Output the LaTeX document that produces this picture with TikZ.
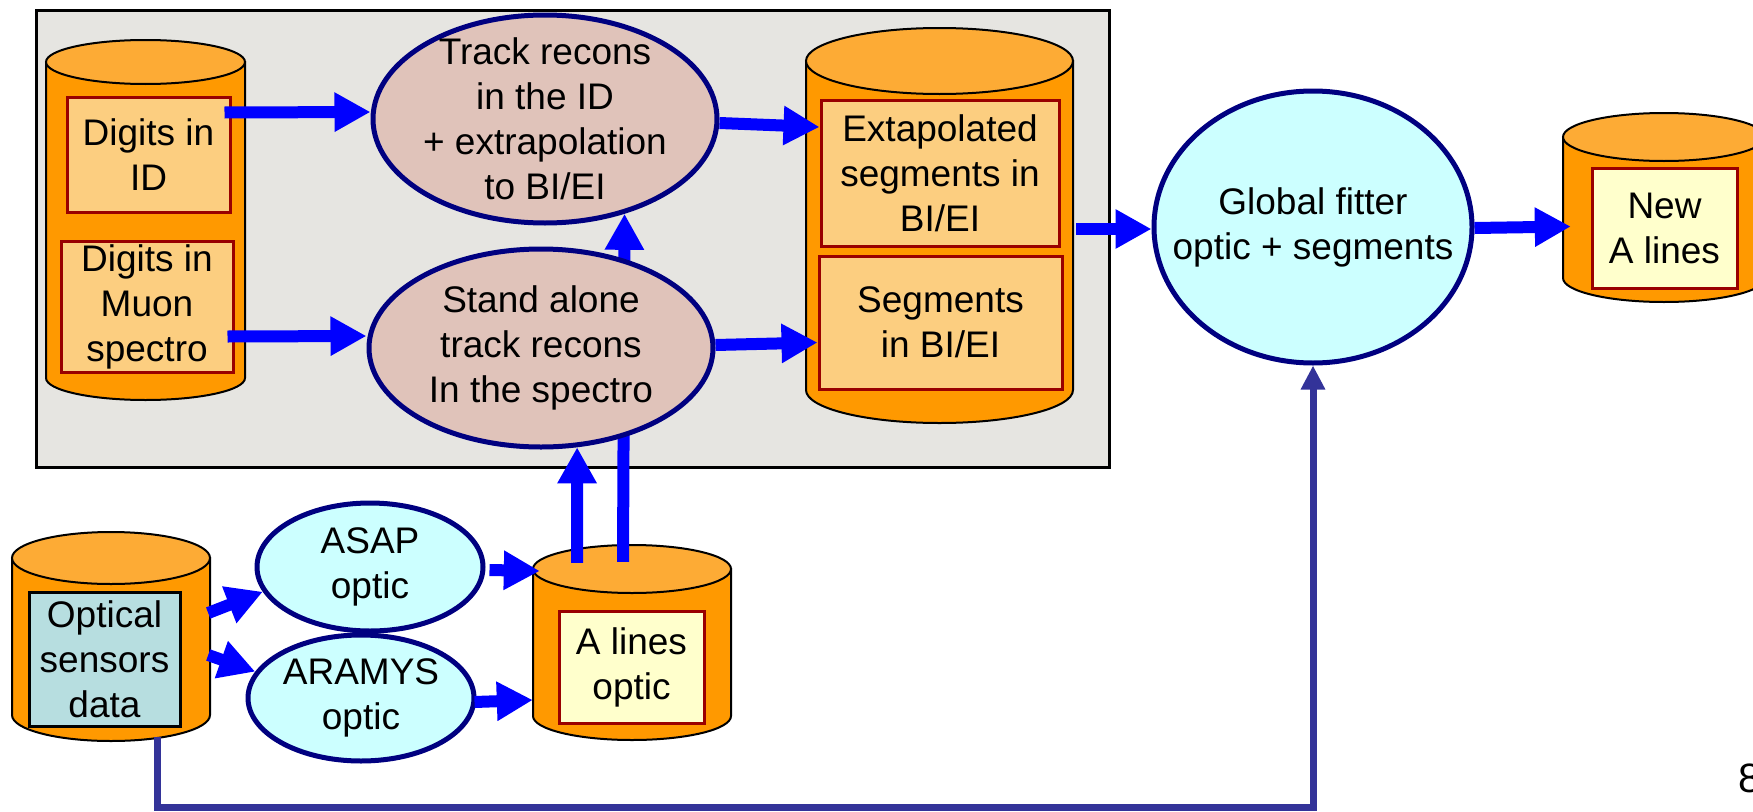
\documentclass[tikz,border=0pt]{standalone}
\usepackage{fontspec}
\setmainfont{Liberation Sans}
\usetikzlibrary{arrows.meta,shapes.geometric,calc}
\definecolor{arrowblue}{RGB}{0,0,255}
\definecolor{navyline}{RGB}{0,0,128}
\definecolor{pinkfill}{RGB}{224,195,186}
\definecolor{cyanfill}{RGB}{204,255,255}
\definecolor{cylbody}{RGB}{255,153,0}
\definecolor{cyltop}{RGB}{253,171,53}
\definecolor{boxorange}{RGB}{252,206,128}
\definecolor{boxborder}{RGB}{153,0,0}
\definecolor{paleyellow}{RGB}{255,255,204}
\definecolor{opticfill}{RGB}{183,222,224}
\definecolor{framegray}{RGB}{230,229,225}
\definecolor{railblue}{RGB}{51,51,153}
\tikzset{
  outerframe/.style={draw=black, line width=3pt, fill=framegray, inner sep=0pt},
  orangebox/.style={draw=boxborder, line width=3pt, fill=boxorange, inner sep=0pt, align=center},
  yellowbox/.style={orangebox, fill=paleyellow},
  opticbox/.style={orangebox, draw=black, fill=opticfill},
  procell/.style={ellipse, draw=navyline, line width=5pt, inner sep=0pt},
  pinkell/.style={procell, fill=pinkfill},
  cyanell/.style={procell, fill=cyanfill},
  celltext/.style={align=center, inner sep=0pt},
  cylbodystyle/.style={fill=cylbody, draw=black, line width=2pt},
  cyltopstyle/.style={fill=cyltop, draw=black, line width=2pt},
  bigarrow/.style={draw=arrowblue, line width=12pt, -{Triangle[length=36pt,width=37pt]}},
  railarrow/.style={draw=railblue, line width=7pt, -{Triangle[length=24pt,width=23pt]}},
}
% #1 name, #2 cx, #3 top-ellipse centre y, #4 bottom-ellipse centre y, #5 rx, #6 ry
\newcommand\dbcyl[6]{%
  \filldraw[cylbodystyle] ({#2-#5},#3) -- ({#2-#5},#4)
     arc[start angle=180, end angle=0, x radius=#5, y radius=#6] -- ({#2+#5},#3) -- cycle;
  \filldraw[cyltopstyle] (#2,#3) ellipse[x radius=#5, y radius=#6];
  \node[inner sep=0pt, minimum width={2*#5}, minimum height={#4-#3+2*#6}] (#1) at (#2,{(#3+#4)/2}) {};
}
\begin{document}
\begin{tikzpicture}[x=1pt, y=-1pt, font=\fontsize{37}{45}\selectfont]
\useasboundingbox (0,0) rectangle (1753,811);

% grey frame
\node[outerframe, minimum width=1073, minimum height=457] (frame) at (572.5,238.5) {};

% cylinders
\dbcyl{cylA}{145.5}{62}{378}{99.5}{22}
\dbcyl{cylB}{939.5}{61}{390}{133.5}{33}
\dbcyl{cylC}{1664}{137}{278}{101}{24}
\dbcyl{cylD}{111}{558}{715}{99}{26}
\dbcyl{cylE}{632}{569}{716}{99}{24}

% boxes inside cylinders
\node[orangebox, minimum width=163, minimum height=115] (idbox) at (148.5,154.5) {Digits in\\ID};
\node[orangebox, minimum width=172, minimum height=131] (muonbox) at (147,306.5) {Digits in\\Muon\\spectro};
\node[orangebox, minimum width=238, minimum height=146] (extbox) at (940,173) {Extapolated\\segments in\\BI/EI};
\node[orangebox, minimum width=243, minimum height=133] (segbox) at (940.5,322.5) {Segments\\in BI/EI};
\node[yellowbox, minimum width=145, minimum height=120] (newbox) at (1664.5,228) {New\\A lines};
\node[opticbox, minimum width=151, minimum height=134] (optbox) at (104.5,659) {Optical\\sensors\\data};
\node[yellowbox, minimum width=145, minimum height=112] (alinebox) at (631.5,667) {A lines\\optic};

% process ellipses
\node[pinkell, minimum width=344, minimum height=208] (track) at (545,119) {};
\node[celltext] (tracktext) at (track) {Track recons\\in the ID\\+ extrapolation\\to BI/EI};

% A lines optic -> track recons (passes behind the stand-alone ellipse)
\draw[bigarrow] ([xshift=-9pt,yshift=-17pt]cylE.north) -- (track.-50);

\node[pinkell, minimum width=344, minimum height=198] (stand) at (541,348) {};
\node[celltext] (standtext) at (stand) {Stand alone\\track recons\\In the spectro};
\node[cyanell, minimum width=318, minimum height=272] (global) at (1313,227) {};
\node[celltext] (globaltext) at (global) {Global fitter\\optic + segments};
\node[cyanell, minimum width=226, minimum height=128] (asap) at (370,567) {};
\node[celltext] (asaptext) at (asap) {ASAP\\optic};
\node[cyanell, minimum width=226, minimum height=126] (aramys) at (361,698) {};
\node[celltext] (aramystext) at (aramys) {ARAMYS\\optic};

% thick blue connectors
\draw[bigarrow] ([xshift=-7pt,yshift=42pt]idbox.east) -- ([yshift=7pt]track.west);
\draw[bigarrow] ([xshift=-7pt,yshift=-30pt]muonbox.east) -- ([yshift=12pt]stand.west);
\draw[bigarrow] ([yshift=-4pt]track.east) -- ([yshift=46pt]extbox.west);
\draw[bigarrow] ([yshift=3pt]stand.east) -- ([yshift=-20pt]segbox.west);
\draw[bigarrow] ([xshift=-55pt,yshift=-18pt]cylE.north) -- (stand.-70);
\draw[bigarrow] ([xshift=3pt,yshift=-3.5pt]cylB.east) -- ([yshift=-2pt]global.west);
\draw[bigarrow] ([yshift=-1pt]global.east) -- ([xshift=8pt,yshift=-19pt]cylC.west);
\draw[bigarrow] ([xshift=-2pt,yshift=23.5pt]cylD.east) -- (asap.193);
\draw[bigarrow] ([xshift=-2pt,yshift=-18.5pt]cylD.east) -- (aramys.166);
\draw[bigarrow] ([xshift=4pt,yshift=-3pt]asap.east) -- ([xshift=7pt,yshift=71.5pt]cylE.west);
\draw[bigarrow] ([xshift=-2pt,yshift=-4pt]aramys.east) -- ([yshift=-57.5pt]cylE.west);

% optical sensors -> global fitter rail
\coordinate (dstart) at ([xshift=46pt,yshift=4pt]cylD.south);
\coordinate (rail) at (0,807);
\draw[railarrow] (dstart) -- (dstart |- rail) -| (global.south);

% page number (cut by the right edge, as in the original)
\node[anchor=base west, inner sep=0pt, font=\fontsize{41}{41}\selectfont] (pagenum) at (1738,792) {8};
\end{tikzpicture}
\end{document}
